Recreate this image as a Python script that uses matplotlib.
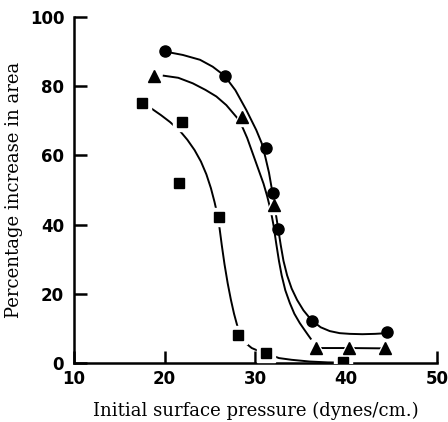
import matplotlib
matplotlib.use("Agg")
import matplotlib.pyplot as plt

# measured points
circ_x = [20.0, 26.6, 31.2, 31.9, 32.5, 36.2, 44.5]
circ_y = [90.0, 83.0, 62.0, 49.0, 38.6, 12.0, 8.8]
tri_x = [18.8, 28.5, 32.0, 36.7, 40.3, 44.3]
tri_y = [83.0, 71.0, 45.5, 4.3, 4.3, 4.2]
sq_x = [17.45, 21.9, 21.6, 26.0, 28.1, 31.2, 39.7]
sq_y = [75.0, 69.5, 52.0, 42.3, 8.0, 2.8, 0.4]

# hand-drawn curves
circ_cx = [20.0, 20.6, 22.0, 23.9, 25.3, 26.6, 27.8, 29.0, 30.1, 30.7, 31.1, 31.5, 31.9,
           32.2, 32.5, 32.8, 33.1, 33.5, 34.0, 34.6, 35.3, 36.2, 37.2, 38.2, 39.3, 40.4,
           41.8, 43.2, 44.5]
circ_cy = [90.0, 89.7, 89.0, 87.6, 85.6, 83.0, 78.8, 73.1, 67.3, 63.5, 59.5, 55.0, 49.0,
           44.0, 39.0, 34.0, 29.5, 25.3, 21.5, 18.2, 15.2, 12.3, 10.3, 9.2, 8.6, 8.4,
           8.3, 8.4, 8.6]
tri_cx = [19.9, 21.5, 23.1, 24.5, 25.7, 26.8, 28.0, 28.6, 29.1, 29.7, 30.3, 30.9, 31.3,
          31.7, 32.0, 32.3, 32.6, 32.9, 33.3, 33.8, 34.3, 34.9, 35.4, 35.8, 36.1]
tri_cy = [83.0, 82.4, 80.8, 78.9, 77.0, 74.5, 70.8, 68.0, 65.0, 60.6, 56.2, 51.8, 48.2,
          44.0, 39.8, 34.5, 29.5, 25.3, 21.0, 17.3, 14.2, 11.5, 9.6, 8.1, 7.0]
tri_tx = [36.7, 40.3, 44.3]
tri_ty = [4.3, 4.3, 4.2]
sq_cx = [17.45, 18.5, 19.6, 20.6, 21.7, 22.5, 23.3, 24.0, 24.6, 25.1, 25.5, 25.8, 26.05,
         26.3, 26.6, 26.95, 27.3, 27.65, 28.0, 28.4, 28.8, 29.6, 30.4, 31.2, 32.6, 34.0,
         36.0, 38.0, 39.7]
sq_cy = [75.0, 73.6, 71.6, 69.6, 67.0, 64.5, 61.5, 58.2, 54.5, 50.5, 46.5, 43.0, 39.0,
         34.0, 28.5, 23.0, 18.3, 14.2, 10.8, 8.0, 6.0, 4.3, 3.4, 2.8, 1.4, 0.9,
         0.4, 0.15, 0.1]

fig = plt.figure(figsize=(4.48, 4.22), dpi=100)
ax = fig.add_axes([0.165, 0.14, 0.81, 0.82])

lw = 1.4
for cx, cy in [(circ_cx, circ_cy), (tri_cx, tri_cy), (tri_tx, tri_ty), (sq_cx, sq_cy)]:
    ax.plot(cx, cy, color="black", lw=lw, zorder=2, solid_joinstyle="round")

# white halos break the lines round the markers
ax.plot(tri_x, tri_y, "^", ms=13, color="white", zorder=3)
ax.plot(sq_x, sq_y, "s", ms=12.5, color="white", zorder=3)
ax.plot(circ_x, circ_y, "o", ms=8, color="black", zorder=4)
ax.plot(tri_x, tri_y, "^", ms=8.5, color="black", zorder=4)
ax.plot(sq_x, sq_y, "s", ms=7.5, color="black", zorder=4)

ax.set_xlim(10, 50)
ax.set_ylim(0, 100)
ax.set_xticks([10, 20, 30, 40, 50])
ax.set_yticks([0, 20, 40, 60, 80, 100])
for s in ["top", "right"]:
    ax.spines[s].set_visible(False)
for s in ["left", "bottom"]:
    ax.spines[s].set_linewidth(1.8)
ax.tick_params(direction="in", length=9, width=1.8)
ax.tick_params(axis="x", pad=5)
ax.tick_params(axis="y", pad=7)
for lab in ax.get_xticklabels() + ax.get_yticklabels():
    lab.set_fontweight("bold")
    lab.set_fontsize(12)
    lab.set_family("DejaVu Sans")

ax.set_xlabel("Initial surface pressure (dynes/cm.)", family="DejaVu Serif", fontsize=13, labelpad=10)
ax.set_ylabel("Percentage increase in area", family="DejaVu Serif", fontsize=13, labelpad=5)

fig.savefig("out.png", dpi=100)
